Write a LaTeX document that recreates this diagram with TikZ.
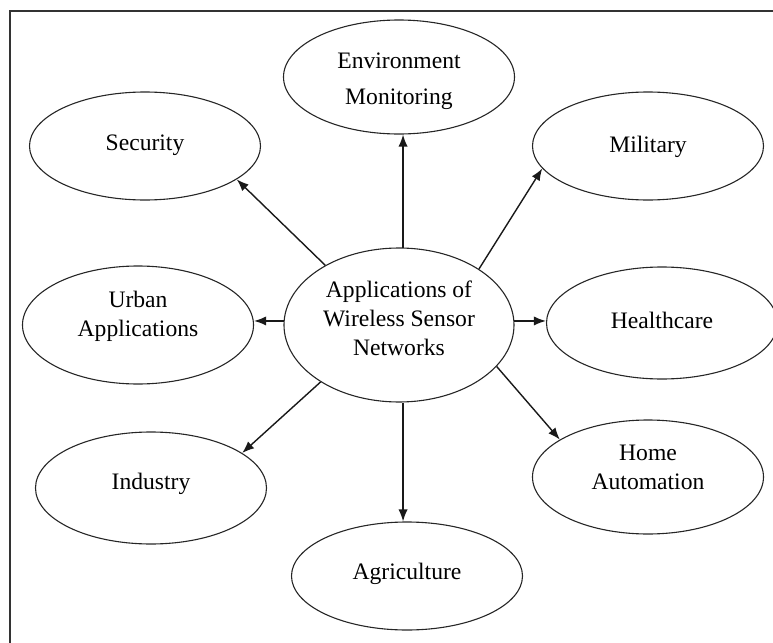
\documentclass[tikz,border=0pt]{standalone}
\usepackage{fontspec}
\setmainfont{Liberation Serif}
\usetikzlibrary{shapes.geometric,arrows.meta,calc}
\begin{document}
\begin{tikzpicture}[x=0.5pt,y=-0.5pt,
  app/.style={ellipse,draw=black!85,line width=0.55pt,inner sep=0pt,
    minimum width=115.5pt,minimum height=55pt},
  txt/.style={inner sep=0pt,align=center,font=\fontsize{11.8}{14.5}\selectfont},
  link/.style={draw=black!90,line width=0.7pt,-{Latex[length=6pt,width=4.6pt]}}]
\useasboundingbox (0,0) rectangle (773,643);
\clip (0,0) rectangle (773,643);
% outer frame (open on the right and bottom)
\draw[line width=0.8pt,black!80] (10,643) -- (10,11) -- (773,11);
% hub
\node[app,minimum width=115pt,minimum height=77pt] (hub) at (399,325) {};
\node[txt] (hubt) at ($(hub)+(0,-7)$) {Applications of\\Wireless Sensor\\Networks};
% application areas
\node[app,minimum height=57pt] (env) at (399,77) {};
\node[txt,font=\fontsize{11.8}{18}\selectfont] (envt) at ($(env)+(0,4)$) {Environment\\Monitoring};
\node[app,minimum height=54pt] (sec) at (145,146) {};
\node[txt] (sect) at ($(sec)+(0,-1)$) {Security};
\node[app,minimum height=54pt] (mil) at (648,146) {};
\node[txt] (milt) at ($(mil)+(0,1)$) {Military};
\node[app,minimum height=59pt] (urb) at (138,325) {};
\node[txt] (urbt) at ($(urb)+(0,-9)$) {Urban\\Applications};
\node[app,minimum height=56pt] (hea) at (662,323) {};
\node[txt] (heat) at ($(hea)+(0,-3)$) {Healthcare};
\node[app,minimum height=57pt] (hom) at (648,477) {};
\node[txt] (homt) at ($(hom)+(0,-10)$) {Home\\Automation};
\node[app,minimum height=56pt] (ind) at (151,488) {};
\node[txt] (indt) at ($(ind)+(0,-4)$) {Industry};
\node[app,minimum height=54pt] (agr) at (407,576) {};
\node[txt] (agrt) at ($(agr)+(0,-2)$) {Agriculture};
% connectors from the hub
\draw[link] (hub.87) -- (hub.87 |- env.south);
\draw[link] (hub.141) -- (sec.-20);
\draw[link] (hub.35) -- (mil.-168);
\draw[link] (hub.178) -- (hub.178 -| urb.east);
\draw[link] (hub.2) -- (hub.2 -| hea.west);
\draw[link] (hub.-23) -- (hom.157);
\draw[link] (hub.-144) -- (ind.21);
\draw[link] (hub.-87) -- (hub.-87 |- agr.north);
\end{tikzpicture}
\end{document}
